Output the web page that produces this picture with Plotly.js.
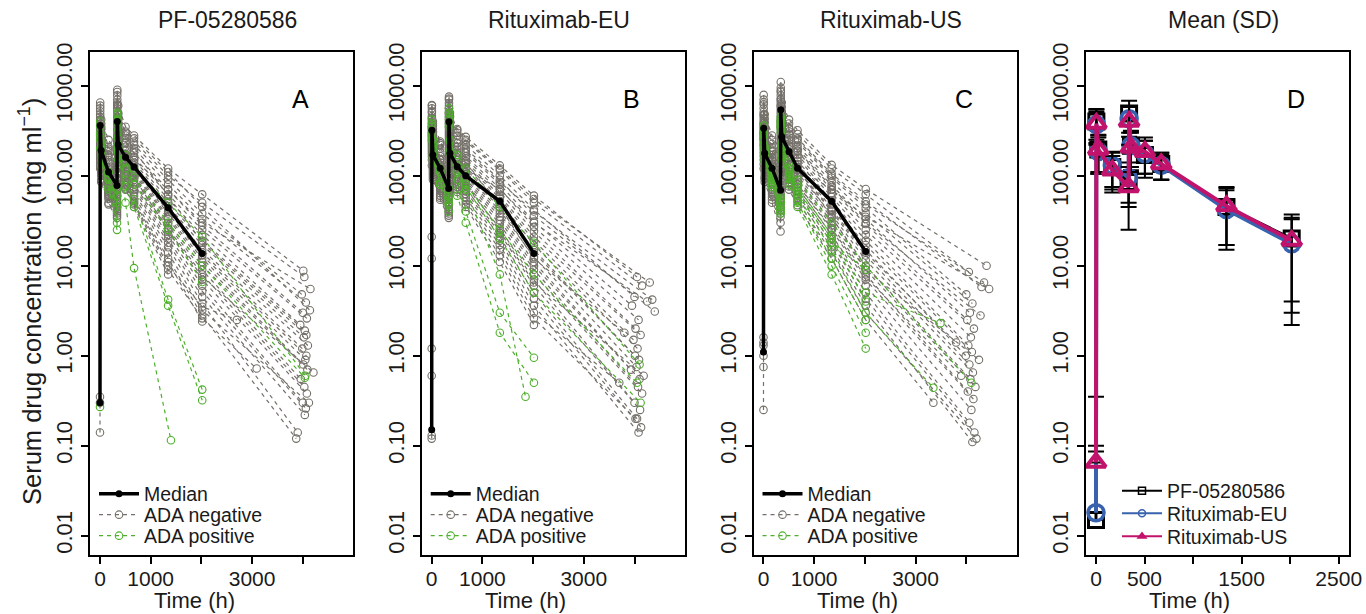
<!DOCTYPE html>
<html><head><meta charset="utf-8">
<script src="https://cdn.plot.ly/plotly-3.0.1.min.js"></script>
<style>html,body{margin:0;padding:0;background:#fff}#chart{width:1366px;height:614px}</style>
</head><body><div id="chart"></div>
<script>
// nominal sampling times (h); each subject row: values at T, then [lateTime, lateValue]
const T = [0, 4, 24, 168, 336, 341, 360, 504, 672, 1344, 2016];
const panelTitles = ['PF-05280586', 'Rituximab-EU', 'Rituximab-US', 'Mean (SD)'];
const panelLetters = ['A', 'B', 'C', 'D'];
const yTickVals = [0.01, 0.1, 1, 10, 100, 1000];
const yTickText = ['0.01', '0.10', '1.00', '10.00', '100.00', '1000.00'];
const xTickVals = [0, 1000, 3000];
const xTickText = ['0', '1000', '3000'];
const xMinorVals = [2000, 4000];
const xTickValsD = [0, 500, 1500, 2500];
const xTickTextD = ['0', '500', '1500', '2500'];
const xMinorValsD = [1000, 2000];

const medianA = [0.3, 360, 190, 110, 78, 400, 220, 160, 125, 44, 13.7];
const medianB = [0.15, 320, 170, 121, 72, 398, 177, 126, 100, 52, 13.7];
const medianC = [1.1, 336, 177, 121, 69, 540, 270, 185, 121, 52, 14.4];

const negA = [
 [null,650,420,250,180,900,600,350,280,120,62,4010,8.8],
 [0.35,560,380,210,150,780,480,300,240,100,50,4030,7.5],
 [null,480,330,190,130,700,420,280,220,90,38,3980,4.8],
 [null,420,300,170,120,620,380,260,200,80,33,4060,3.9],
 [0.3,400,260,150,105,560,330,230,180,70,28,4000,3.0],
 [null,380,240,140,95,520,300,210,160,62,25,4080,2.6],
 [null,360,220,125,90,480,280,190,150,55,22,3950,2.2],
 [null,340,210,115,85,450,260,175,140,50,19,4040,1.9],
 [0.14,330,200,110,80,430,250,165,130,46,17,4020,1.6],
 [null,320,190,105,75,410,235,160,125,43,15,4100,1.3],
 [null,300,180,100,70,400,225,150,120,40,14,3990,1.2],
 [null,290,175,95,68,380,215,145,115,38,13,4070,1.0],
 [null,280,170,90,65,370,205,140,110,35,12,4050,0.9],
 [null,270,160,88,62,360,200,135,105,33,11,4010,0.8],
 [null,260,155,85,60,350,195,130,100,30,10,4090,0.7],
 [null,250,150,80,58,340,190,125,95,28,9,3960,0.55],
 [null,240,145,78,55,330,180,120,90,26,8,4030,0.45],
 [null,230,140,75,52,320,175,115,85,24,7,4080,0.38],
 [null,220,135,72,50,300,170,110,80,22,6,4000,0.3],
 [null,210,130,70,48,290,160,105,75,20,5.2,4060,0.26],
 [null,200,125,68,46,280,155,100,70,18,4.5,4040,0.22],
 [null,190,120,65,44,260,150,95,65,16,3.8,3900,0.14],
 [null,180,115,62,42,250,140,90,60,14,3.2,4120,0.3],
 [null,170,110,60,40,240,130,85,55,12,2.8,3870,0.12],
 [null,160,105,58,45,230,125,80,52,11,2.4,null,null],
 [null,150,100,55,38,210,120,78,50,10,3.5,2700,2.5],
 [null,130,90,50,36,190,110,72,48,9,2.6,3090,0.72],
 [null,120,85,48,34,180,105,70,45,8,null,null,null],
 [null,140,110,90,75,250,200,170,150,70,30,4150,5.5],
 [null,520,300,120,60,600,300,150,95,25,7.5,4210,0.65],
 [null,600,350,200,140,850,500,310,260,110,45,4140,3.2],
 [null,450,280,160,110,650,350,240,190,60,18,4070,1.7]
];
const posA = [
 [0.27,400,230,110,45,500,200,50,9.4,null,null,1400,0.115],
 [null,300,180,90,30,400,180,90,55,4.2,0.42,null,null],
 [null,250,150,75,25,350,150,75,45,3.6,0.32,null,null],
 [null,350,210,110,70,480,260,170,120,50,21,4050,0.6],
 [null,200,130,70,50,300,180,120,80,25,6.6,null,null],
 [null,280,170,95,60,420,220,140,95,30,10,4040,0.57]
];

const negB = [
 [null,610,400,240,170,755,500,330,270,130,60,4050,7.5],
 [null,560,360,220,150,700,450,300,240,115,50,4150,6.0],
 [21,500,330,200,135,640,400,280,220,100,42,4000,4.5],
 [null,460,300,180,120,600,360,250,200,90,36,4400,3.1],
 [12,430,280,165,110,560,330,230,180,80,31,3950,3.6],
 [null,400,260,150,100,520,300,210,165,72,27,4080,2.5],
 [1.2,380,240,140,95,490,280,195,155,66,24,4020,2.0],
 [null,360,225,132,88,460,260,180,145,60,21,4120,1.7],
 [0.6,340,210,125,82,440,245,170,135,56,19,3980,1.5],
 [null,330,200,118,78,420,230,160,125,52,17,4060,1.2],
 [0.13,315,190,112,74,400,220,150,118,48,15,4010,1.0],
 [null,300,180,106,70,385,210,142,110,44,14,4090,0.9],
 [0.12,290,172,100,66,370,200,135,104,41,12.5,4040,0.75],
 [null,280,165,96,63,355,190,128,98,38,11,3930,0.7],
 [null,270,158,92,60,340,182,122,92,35,10,4100,0.55],
 [null,260,150,88,57,325,175,116,87,32,9,4070,0.45],
 [null,248,144,84,54,310,168,110,82,29,8,4150,0.38],
 [null,236,138,80,51,295,160,104,77,26,7,4000,0.3],
 [null,224,132,76,48,280,152,98,72,23,6,4110,0.25],
 [null,212,126,72,45,265,144,92,67,21,5,4050,0.2],
 [null,200,120,68,42,250,136,86,62,19,4.3,4130,0.16],
 [null,188,114,64,40,235,128,80,57,17,3.6,4080,0.14],
 [null,176,108,60,38,220,120,75,52,15,3.0,3700,0.5],
 [null,164,102,57,36,205,112,70,48,13,2.6,4020,0.2],
 [null,150,96,54,34,190,105,66,45,11,2.2,null,null],
 [null,130,90,60,50,230,170,140,120,70,30,4250,4.0],
 [null,520,280,120,58,560,260,130,85,24,6.5,4180,0.6],
 [null,600,380,230,160,720,460,320,250,120,55,4300,6.5],
 [null,440,260,150,90,500,270,180,140,45,12,3800,1.8],
 [null,350,230,150,110,480,320,230,190,85,40,4350,4.2]
];
const posB = [
 [null,420,250,120,55,560,250,90,40,3.0,0.95,null,null],
 [null,300,170,80,40,420,180,60,30,1.8,0.5,null,null],
 [null,380,220,110,60,500,240,130,70,8,null,1850,0.35],
 [null,350,200,110,75,450,250,170,120,45,18,4100,0.8],
 [null,250,150,80,48,350,180,110,80,25,8,4050,0.5],
 [null,280,160,85,50,380,190,115,75,20,5,4120,0.3]
];

const negC = [
 [null,790,480,280,190,1100,650,420,320,132,71,4400,10],
 [1.6,700,430,250,170,950,580,380,290,120,62,4050,8.5],
 [null,620,390,225,150,850,520,340,260,105,52,4300,5.8],
 [1.3,560,350,205,135,780,470,310,235,95,44,4000,4.8],
 [null,510,320,185,120,720,430,285,215,86,38,4120,3.8],
 [1.0,470,295,170,110,670,400,265,200,78,33,4070,3.0],
 [null,440,275,158,100,630,370,245,185,70,29,4020,2.5],
 [0.75,410,255,146,92,590,345,228,170,64,25,4150,2.0],
 [null,385,238,136,86,555,320,212,158,58,22,4090,1.6],
 [0.25,360,222,127,80,520,300,198,146,53,19,4040,1.3],
 [null,340,208,118,75,490,280,185,135,48,17,4110,1.1],
 [null,320,195,110,70,460,262,172,125,44,15,3990,1.0],
 [1.4,300,182,103,65,435,245,160,116,40,13,4060,0.8],
 [null,285,170,96,61,410,230,150,108,37,11.5,4130,0.65],
 [null,270,160,90,57,385,215,140,100,34,10,4080,0.55],
 [null,255,150,85,53,360,200,130,93,31,9,4180,0.45],
 [null,240,140,80,50,340,188,121,86,28,8,4030,0.4],
 [null,225,132,75,47,320,176,112,80,25,7,4140,0.33],
 [null,210,124,70,44,300,165,104,74,22,6,4100,0.25],
 [null,195,116,66,41,280,154,97,68,20,5,4060,0.18],
 [null,180,108,62,38,260,143,90,62,18,4.3,4160,0.14],
 [null,165,100,58,35,240,132,83,57,16,3.6,4120,0.11],
 [null,150,92,54,30,220,121,76,52,14,3.0,4200,0.12],
 [null,135,85,50,24,200,110,70,47,12,2.5,3350,0.3],
 [null,120,95,70,55,260,190,150,125,70,35,4450,5.5],
 [null,650,350,150,70,700,330,180,120,35,9,4250,0.9],
 [null,480,300,190,130,880,500,330,250,100,48,4350,6.5],
 [null,380,250,160,105,600,360,250,190,75,30,4280,2.8],
 [null,300,170,90,45,350,180,110,80,26,7.5,3900,0.6],
 [null,260,160,95,60,400,240,160,115,42,14,3800,1.4]
];
const posC = [
 [null,360,210,110,55,420,220,120,75,22,5,3490,2.3],
 [null,300,180,90,45,380,190,100,60,15,3,3350,0.44],
 [null,330,200,100,50,400,200,110,65,18,9,null,null],
 [null,280,160,85,42,350,170,95,55,12,2.5,null,null],
 [null,250,150,80,40,330,160,85,50,10,1.8,null,null],
 [null,310,190,100,60,450,230,140,90,30,10,4100,0.5],
 [null,220,140,75,38,300,150,80,45,8,1.2,null,null],
 [null,290,170,95,50,370,180,105,70,20,4,null,null]
];

// Panel D: mean and SD
const meanPF = [0.015, 400, 195, 125, 85, 490, 215, 170, 135, 45, 20];
const sdPF   = [0.085, 150, 90, 55, 40, 190, 100, 75, 45, 28, 17];
const meanEU = [0.018, 370, 185, 130, 95, 430, 215, 175, 130, 42, 17.5];
const sdEU   = [0.068, 140, 80, 55, 45, 160, 90, 70, 40, 27, 15.3];
const meanUS = [0.065, 380, 195, 115, 75, 400, 205, 185, 135, 46, 19];
const sdUS   = [0.285, 160, 85, 50, 50, 180, 95, 80, 45, 29, 15];

const W = 1366, H = 614;
const FONT = 'Liberation Sans, Arial, Helvetica, sans-serif';
const TXT = '#1a1a1a';
const GREY = '#747069', GREEN = '#4daf2a', BLUE = '#3862ad', MAG = '#c2136c';
const px = x => x / W, py = y => 1 - y / H;

const panelLeft = [90, 421.7, 753.5, 1085.7];
const panelW = 263;
const yTop = 52, yBot = 555;
const legendRowsY = [494, 515, 536];
const legendRowsYD = [491, 513.5, 536.5];

function rowXY(row) {
  const xs = [], ys = [];
  for (let i = 0; i < T.length; i++) if (row[i] != null) { xs.push(T[i]); ys.push(row[i]); }
  if (row[11] != null) { xs.push(row[11]); ys.push(row[12]); }
  return {xs, ys};
}
const legName = n => n === 1 ? 'legend' : 'legend' + n;

const traces = [];
const groups = [[negA, posA, medianA], [negB, posB, medianB], [negC, posC, medianC]];
groups.forEach((g, p) => {
  const xa = p === 0 ? 'x' : 'x' + (p + 1), ya = p === 0 ? 'y' : 'y' + (p + 1);
  g[0].forEach((row, i) => {
    const d = rowXY(row);
    traces.push({x: d.xs, y: d.ys, xaxis: xa, yaxis: ya, type: 'scatter', mode: 'lines+markers',
      line: {color: GREY, width: 1.2, dash: '4px,4px'},
      marker: {symbol: 'circle-open', size: 7.5, color: GREY, line: {width: 1.1, color: GREY}},
      name: 'ADA negative', legendgroup: 'neg' + p, showlegend: i === 0, legend: legName(p * 3 + 2), hoverinfo: 'skip'});
  });
  g[1].forEach((row, i) => {
    const d = rowXY(row);
    traces.push({x: d.xs, y: d.ys, xaxis: xa, yaxis: ya, type: 'scatter', mode: 'lines+markers',
      line: {color: GREEN, width: 1.2, dash: '4px,4px'},
      marker: {symbol: 'circle-open', size: 7.5, color: GREEN, line: {width: 1.1, color: GREEN}},
      name: 'ADA positive', legendgroup: 'pos' + p, showlegend: i === 0, legend: legName(p * 3 + 3), hoverinfo: 'skip'});
  });
  traces.push({x: T, y: g[2], xaxis: xa, yaxis: ya, type: 'scatter', mode: 'lines+markers',
    line: {color: '#000', width: 3.5}, marker: {symbol: 'circle', size: 7, color: '#000'},
    name: 'Median', legend: legName(p * 3 + 1), showlegend: true, hoverinfo: 'skip'});
});

function meanTrace(m, sd, name, color, symbol, size, lw, mlw) {
  return {x: T, y: m, xaxis: 'x4', yaxis: 'y4', type: 'scatter', mode: 'lines+markers', name: name,
    line: {color: color, width: lw},
    marker: {symbol: symbol, size: size, color: color, line: {width: mlw, color: color}},
    error_y: {type: 'data', symmetric: false, array: sd, arrayminus: sd.map((s, i) => s < m[i] ? s : 0),
      color: '#000', thickness: 2, width: 8},
    showlegend: false, hoverinfo: 'skip'};
}
traces.push(meanTrace(meanPF, sdPF, 'PF-05280586', '#000', 'square-open', 15, 3, 3));
traces.push(meanTrace(meanEU, sdEU, 'Rituximab-EU', BLUE, 'circle-open', 16, 4, 3.5));
traces.push(meanTrace(meanUS, sdUS, 'Rituximab-US', MAG, 'triangle-up-open', 17, 4, 4));
// legend entries for panel D
[['PF-05280586', '#000', 'square-open'], ['Rituximab-EU', BLUE, 'circle-open'], ['Rituximab-US', MAG, 'triangle-up']].forEach((e, i) => {
  traces.push({x: [null], y: [null], xaxis: 'x4', yaxis: 'y4', type: 'scatter', mode: 'lines+markers', name: e[0],
    line: {color: e[1], width: 2}, marker: {symbol: e[2], size: 7, color: e[1], line: {width: 1.5, color: e[1]}},
    legend: legName(10 + i), showlegend: true, hoverinfo: 'skip'});
});

const layout = {
  width: W, height: H, margin: {l: 0, r: 0, t: 0, b: 0},
  paper_bgcolor: '#fff', plot_bgcolor: '#fff', showlegend: true,
  font: {family: FONT, color: TXT, size: 20},
  annotations: [], hovermode: false
};
for (let p = 0; p < 4; p++) {
  const s = p === 0 ? '' : String(p + 1);
  layout['xaxis' + s] = {
    domain: [px(panelLeft[p]), px(panelLeft[p] + panelW)],
    range: p < 3 ? [-197, 4990] : [-106, 2603], anchor: 'y' + s,
    tickvals: p < 3 ? xTickVals : xTickValsD, ticktext: p < 3 ? xTickText : xTickTextD,
    ticks: 'outside', ticklen: 7, tickwidth: 2, tickcolor: '#000', ticklabelstandoff: -3,
    minor: {tickvals: p < 3 ? xMinorVals : xMinorValsD, ticks: 'outside', ticklen: 7, tickwidth: 2, tickcolor: '#000', showgrid: false},
    showline: true, mirror: true, linewidth: 2, linecolor: '#000', showgrid: false, zeroline: false,
    tickfont: {size: 21, family: FONT, color: TXT}
  };
  layout['yaxis' + s] = {
    domain: [py(yBot), py(yTop)], type: 'log', range: [-2.214, 3.374], anchor: 'x' + s,
    tickvals: yTickVals, ticktext: yTickText, tickangle: -90,
    ticks: 'outside', ticklen: 7, tickwidth: 2, tickcolor: '#000',
    showline: true, mirror: true, linewidth: 2, linecolor: '#000', showgrid: false, zeroline: false,
    tickfont: {size: 22, family: FONT, color: TXT}
  };
  const cx = panelLeft[p] + panelW / 2;
  layout.annotations.push({text: panelTitles[p], xref: 'paper', yref: 'paper', x: px(cx + 6), y: py(20),
    showarrow: false, font: {size: 23, family: FONT, color: TXT}, xanchor: 'center', yanchor: 'middle'});
  layout.annotations.push({text: panelLetters[p], xref: 'paper', yref: 'paper', x: px(panelLeft[p] + 210), y: py(99),
    showarrow: false, font: {size: 25, family: FONT, color: '#000'}, xanchor: 'center', yanchor: 'middle'});
  layout.annotations.push({text: 'Time (h)', xref: 'paper', yref: 'paper', x: px(panelLeft[p] + 104), y: 0,
    showarrow: false, font: {size: 22, family: FONT, color: TXT}, xanchor: 'center', yanchor: 'bottom', borderpad: 0});
}
layout.annotations.push({text: 'Serum drug concentration (mg ml<sup>\u22121</sup>)', xref: 'paper', yref: 'paper',
  x: px(30), y: py(302), textangle: -90, showarrow: false, font: {size: 25.5, family: FONT, color: TXT},
  xanchor: 'center', yanchor: 'middle'});

const legendBase = {bgcolor: 'rgba(0,0,0,0)', borderwidth: 0, font: {size: 19.5, family: FONT, color: TXT},
  xanchor: 'left', yanchor: 'middle', tracegroupgap: 0, itemclick: false, itemdoubleclick: false, itemwidth: 40};
for (let p = 0; p < 3; p++) {
  for (let r = 0; r < 3; r++) {
    layout[legName(p * 3 + r + 1)] = Object.assign({}, legendBase, {x: px(panelLeft[p] + 4), y: py(legendRowsY[r])});
  }
}
for (let r = 0; r < 3; r++) {
  layout[legName(10 + r)] = Object.assign({}, legendBase, {x: px(1117), y: py(legendRowsYD[r])});
}

Plotly.newPlot('chart', traces, layout, {staticPlot: true, displayModeBar: false});
</script>
</body></html>
